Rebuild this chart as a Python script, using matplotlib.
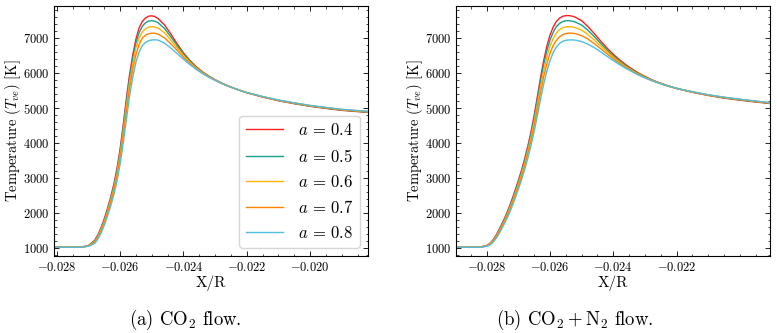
import matplotlib
matplotlib.use("Agg")
import matplotlib.pyplot as plt
from matplotlib.ticker import AutoMinorLocator

# --- estilo tipo "science" ---
plt.rcParams['font.family'] = 'serif'
plt.rcParams['font.serif'] = ['cmr10']
plt.rcParams['mathtext.fontset'] = 'cm'
plt.rcParams['axes.formatter.use_mathtext'] = True
plt.rcParams['axes.unicode_minus'] = True

# --- dados ---
labels = [r'$a\,=\,0.4$', r'$a\,=\,0.5$', r'$a\,=\,0.6$', r'$a\,=\,0.7$', r'$a\,=\,0.8$']
cores = ['#ff1f1f', '#17a08c', '#ffb400', '#ff8200', '#4fbee0']

# (a) CO2
x_co2 = [-0.0281, -0.0275, -0.0272, -0.0270, -0.0268, -0.0267, -0.0266, -0.0265, -0.0264, -0.0263,
         -0.0262, -0.0261, -0.0260, -0.0259, -0.0258, -0.0257, -0.0256, -0.0255, -0.0254, -0.0253,
         -0.0252, -0.0251, -0.0250, -0.0249, -0.0248,
         -0.0246, -0.0244, -0.0242, -0.0240, -0.0238, -0.0236, -0.0234, -0.0232, -0.0230, -0.0228,
         -0.0226, -0.0224, -0.0222, -0.0220,
         -0.0215, -0.0210, -0.0205, -0.0200, -0.0195, -0.0190, -0.01817]
t_co2_04 = [1030, 1030, 1040, 1080, 1230, 1390, 1600, 1850, 2140, 2460,
            2830, 3280, 3850, 4550, 5300, 5980, 6530, 6980, 7300, 7480,
            7580, 7630, 7640, 7615, 7560,
            7380, 7120, 6840, 6580, 6370, 6190, 6040, 5920, 5815, 5720,
            5640, 5570, 5505, 5445,
            5320, 5215, 5130, 5055, 4995, 4940, 4880]
t_co2_05 = [1030, 1030, 1038, 1075, 1215, 1370, 1570, 1810, 2100, 2410,
            2770, 3210, 3770, 4460, 5200, 5870, 6420, 6870, 7160, 7340,
            7440, 7490, 7500, 7485, 7440,
            7280, 7040, 6790, 6550, 6350, 6175, 6030, 5912, 5810, 5717,
            5638, 5569, 5505, 5446,
            5325, 5222, 5138, 5063, 5004, 4950, 4890]
t_co2_06 = [1030, 1030, 1036, 1070, 1190, 1340, 1540, 1770, 2050, 2360,
            2710, 3140, 3680, 4350, 5080, 5750, 6280, 6740, 7010, 7180,
            7270, 7315, 7330, 7320, 7285,
            7160, 6950, 6720, 6500, 6315, 6155, 6017, 5905, 5805, 5715,
            5637, 5569, 5505, 5446,
            5330, 5228, 5145, 5070, 5012, 4958, 4898]
t_co2_07 = [1030, 1030, 1034, 1065, 1170, 1310, 1500, 1730, 2000, 2300,
            2640, 3060, 3580, 4230, 4940, 5600, 6120, 6540, 6830, 7000,
            7090, 7130, 7145, 7140, 7115,
            7010, 6840, 6650, 6455, 6285, 6135, 6005, 5897, 5800, 5712,
            5636, 5568, 5505, 5447,
            5332, 5232, 5150, 5076, 5018, 4964, 4905]
t_co2_08 = [1030, 1030, 1032, 1058, 1140, 1270, 1440, 1660, 1920, 2200,
            2530, 2920, 3410, 4020, 4700, 5360, 5900, 6320, 6610, 6790,
            6880, 6930, 6950, 6955, 6945,
            6860, 6720, 6560, 6400, 6250, 6110, 5990, 5885, 5795, 5710,
            5635, 5568, 5505, 5447,
            5335, 5236, 5156, 5081, 5024, 4970, 4912]

# (b) CO2 + N2
x_mix = [-0.0290, -0.0284, -0.0282,
         -0.0280, -0.0279, -0.0278, -0.0277, -0.0276, -0.0275, -0.0274, -0.0273, -0.0272, -0.0271,
         -0.0270, -0.0269, -0.0268, -0.0267, -0.0266, -0.0265, -0.0264, -0.0263, -0.0262, -0.0261,
         -0.0260, -0.0259, -0.0258, -0.0257, -0.0256, -0.0255, -0.0254, -0.0253, -0.0252,
         -0.0250, -0.0248, -0.0246, -0.0244, -0.0242, -0.0240, -0.0238, -0.0236,
         -0.0234, -0.0232, -0.0230, -0.0228, -0.0226, -0.0224, -0.0222, -0.0220,
         -0.0215, -0.0210, -0.0205, -0.0200, -0.0195, -0.01905]
t_mix_04 = [1030, 1030, 1038,
            1080, 1140, 1240, 1380, 1550, 1740, 1930, 2150, 2400, 2660,
            2940, 3230, 3560, 3920, 4330, 4800, 5330, 5870, 6360, 6770,
            7090, 7320, 7480, 7575, 7625, 7645, 7646, 7630, 7600,
            7500, 7330, 7130, 6920, 6720, 6540, 6380, 6240,
            6115, 6005, 5905, 5820, 5745, 5680, 5620, 5565,
            5455, 5365, 5290, 5230, 5178, 5135]
t_mix_05 = [1030, 1030, 1036,
            1075, 1130, 1225, 1360, 1525, 1710, 1900, 2115, 2360, 2620,
            2895, 3185, 3505, 3860, 4260, 4720, 5240, 5770, 6250, 6640,
            6950, 7170, 7330, 7420, 7475, 7498, 7500, 7487, 7460,
            7375, 7225, 7045, 6850, 6665, 6495, 6345, 6212,
            6093, 5988, 5893, 5811, 5739, 5676, 5618, 5565,
            5460, 5372, 5298, 5240, 5188, 5145]
t_mix_06 = [1030, 1030, 1034,
            1068, 1120, 1210, 1340, 1500, 1680, 1865, 2075, 2310, 2565,
            2835, 3120, 3435, 3780, 4170, 4610, 5110, 5620, 6080, 6460,
            6770, 6990, 7150, 7250, 7300, 7325, 7330, 7322, 7300,
            7230, 7105, 6950, 6780, 6615, 6455, 6312, 6186,
            6073, 5972, 5881, 5803, 5734, 5673, 5616, 5566,
            5464, 5377, 5305, 5248, 5195, 5150]
t_mix_07 = [1030, 1030, 1032,
            1062, 1110, 1195, 1320, 1475, 1650, 1830, 2035, 2265, 2510,
            2775, 3055, 3360, 3700, 4070, 4490, 4970, 5460, 5900, 6270,
            6570, 6790, 6940, 7040, 7100, 7135, 7145, 7143, 7130,
            7075, 6975, 6845, 6700, 6555, 6412, 6280, 6161,
            6055, 5959, 5872, 5797, 5730, 5670, 5615, 5567,
            5468, 5382, 5311, 5254, 5200, 5155]
t_mix_08 = [1030, 1030, 1030,
            1055, 1095, 1170, 1285, 1430, 1600, 1775, 1970, 2190, 2430,
            2685, 2955, 3250, 3580, 3940, 4340, 4790, 5260, 5690, 6060,
            6360, 6590, 6750, 6850, 6910, 6940, 6950, 6952, 6945,
            6905, 6830, 6730, 6610, 6485, 6360, 6243, 6135,
            6037, 5947, 5865, 5793, 5728, 5669, 5615, 5568,
            5471, 5387, 5317, 5259, 5206, 5160]

series_co2 = [t_co2_04, t_co2_05, t_co2_06, t_co2_07, t_co2_08]
series_mix = [t_mix_04, t_mix_05, t_mix_06, t_mix_07, t_mix_08]


def formatar_eixo(ax, xlim, ylim):
    ax.set_xlim(*xlim)
    ax.set_ylim(*ylim)
    ax.set_yticks([1000, 2000, 3000, 4000, 5000, 6000, 7000])
    ax.xaxis.set_minor_locator(AutoMinorLocator())
    ax.yaxis.set_minor_locator(AutoMinorLocator())
    ax.tick_params(which='both', direction='in', top=True, right=True, labelsize=9)
    ax.tick_params(which='major', length=3.5, width=0.6)
    ax.tick_params(which='minor', length=1.8, width=0.5)
    for sp in ax.spines.values():
        sp.set_linewidth(0.8)
    ax.set_xlabel('X/R', fontsize=11, labelpad=1)
    ax.set_ylabel(r'Temperature ($T_{ve}$) [K]', fontsize=10.5)
    ax.yaxis.set_label_coords(-0.098, 0.5)


fig = plt.figure(figsize=(7.77, 3.33), dpi=100)
ax1 = fig.add_axes([54 / 777, 77 / 333, 314 / 777, 250 / 333])
ax2 = fig.add_axes([456 / 777, 77 / 333, 314 / 777, 250 / 333])

for t, cor, lab in zip(series_co2, cores, labels):
    ax1.plot(x_co2, t, color=cor, lw=1.0, label=lab)
for t, cor, lab in zip(series_mix, cores, labels):
    ax2.plot(x_mix, t, color=cor, lw=1.0, label=lab)

formatar_eixo(ax1, (-0.02809, -0.01817), (780, 7920))
ax1.set_xticks([-0.028, -0.026, -0.024, -0.022, -0.020])
formatar_eixo(ax2, (-0.02897, -0.01905), (780, 7920))
ax2.set_xticks([-0.028, -0.026, -0.024, -0.022])

ax1.legend(loc='lower right', fontsize=12, handlelength=2.2, labelspacing=0.55,
           borderpad=0.4, handletextpad=0.9, borderaxespad=0.5)

fig.text(185 / 777, 13 / 333, r'(a) CO$_2$ flow.', ha='center', va='center', fontsize=13.5)
fig.text(575 / 777, 13 / 333, r'(b) $\mathrm{CO_2 + N_2}$ flow.', ha='center', va='center', fontsize=13.5)

fig.savefig('out.png', dpi=100)
